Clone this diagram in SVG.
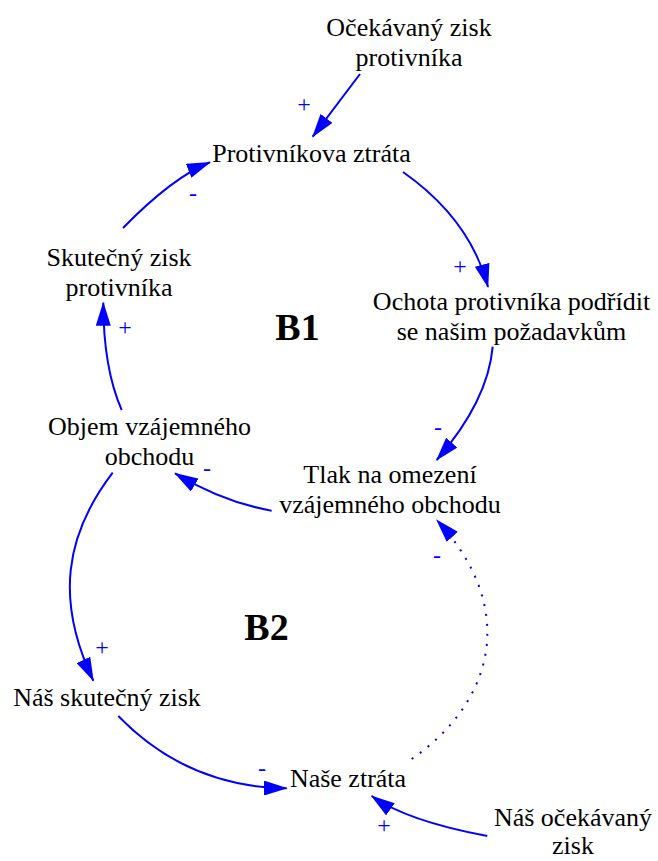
<svg xmlns="http://www.w3.org/2000/svg" width="658" height="861" viewBox="0 0 658 861">
<style>
.lbl{font-family:"Liberation Serif","Times New Roman",serif;font-size:26px;fill:#000;text-anchor:middle}
.loop{font-family:"Liberation Serif","Times New Roman",serif;font-size:38px;font-weight:bold;fill:#000;text-anchor:middle}
.sign{font-family:"Liberation Serif","Times New Roman",serif;font-size:24px;fill:#0000FF;text-anchor:middle}
.link{fill:none;stroke:#0000FF;stroke-width:2;marker-end:url(#ah)}
.dot{stroke-dasharray:2 8}
</style>
<defs>
<marker id="ah" viewBox="0 0 24 15" refX="23" refY="7.5" markerWidth="24" markerHeight="15" markerUnits="userSpaceOnUse" orient="auto">
<path d="M0,0 L24,7.5 L0,15 z" fill="#0000FF"/>
</marker>
</defs>
<rect width="658" height="861" fill="#fff"/>
<g id="connectors">
<path class="link" d="M360,74 L312.7,136.7"/>
<path class="link" d="M403,172 Q470,219 488,287"/>
<path class="link" d="M492.7,346.7 Q488,401 436.7,460"/>
<path class="link" d="M271.7,510.7 Q223,502 175,473.3"/>
<path class="link" d="M121.7,410 Q103.3,368 103.3,302.7"/>
<path class="link" d="M123,228 Q173,177 210,162.3"/>
<path class="link" d="M112.7,472.7 C65,535 55,600 93.3,680.7"/>
<path class="link" d="M118.3,716 Q187,787 286.7,788.3"/>
<path class="link dot" d="M411.7,759 C490,705 522,612 436.7,520"/>
<path class="link" d="M487.3,836 Q407,821 371.7,796"/>
</g>
<g id="signs">
<text class="sign" x="304" y="112">+</text>
<text class="sign" x="193" y="201">-</text>
<text class="sign" x="460" y="274">+</text>
<text class="sign" x="125" y="335">+</text>
<text class="sign" x="438" y="435">-</text>
<text class="sign" x="207" y="476">-</text>
<text class="sign" x="102" y="655">+</text>
<text class="sign" x="437" y="563">-</text>
<text class="sign" x="262" y="776">-</text>
<text class="sign" x="384" y="833">+</text>
</g>
<g id="ocekavany-zisk-protivnika"><text class="lbl" x="409" y="36">Očekávaný zisk</text><text class="lbl" x="409" y="66">protivníka</text></g>
<g id="protivnikova-ztrata"><text class="lbl" x="311.5" y="162">Protivníkova ztráta</text></g>
<g id="skutecny-zisk-protivnika"><text class="lbl" x="119" y="266">Skutečný zisk</text><text class="lbl" x="119" y="296">protivníka</text></g>
<g id="ochota"><text class="lbl" x="511.5" y="310">Ochota protivníka podřídit</text><text class="lbl" x="511.5" y="340">se našim požadavkům</text></g>
<g id="objem"><text class="lbl" x="149.5" y="435">Objem vzájemného</text><text class="lbl" x="149.5" y="465">obchodu</text></g>
<g id="tlak"><text class="lbl" x="390" y="483">Tlak na omezení</text><text class="lbl" x="390" y="513">vzájemného obchodu</text></g>
<g id="nas-skutecny-zisk"><text class="lbl" x="107" y="706">Náš skutečný zisk</text></g>
<g id="nase-ztrata"><text class="lbl" x="348" y="787">Naše ztráta</text></g>
<g id="nas-ocekavany-zisk"><text class="lbl" x="573" y="826">Náš očekávaný</text><text class="lbl" x="573" y="854">zisk</text></g>
<g id="loop-b1"><text class="loop" x="297.5" y="340">B1</text></g>
<g id="loop-b2"><text class="loop" x="266.5" y="640">B2</text></g>
</svg>
